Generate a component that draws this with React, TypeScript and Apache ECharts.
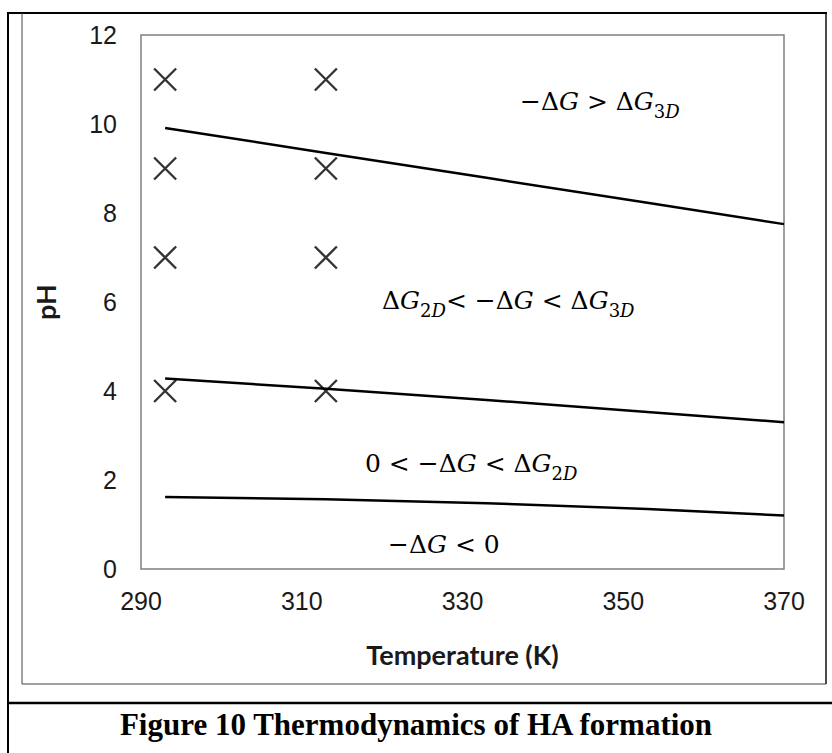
import React, { useEffect, useRef } from "react";
import * as echarts from "echarts";

const xTicks = [290, 310, 330, 350, 370];
const yTicks = [0, 2, 4, 6, 8, 10, 12];

// experiment points (Temperature K, pH)
const markerPoints: [number, number][] = [
  [293, 11], [313, 11],
  [293, 9], [313, 9],
  [293, 7], [313, 7],
  [293, 4], [313, 4],
];

// boundary curves
const boundaryT = [293, 313, 333, 353, 370];
const boundary3D = [9.91, 9.35, 8.79, 8.23, 7.75];
const boundary2D = [4.28, 4.05, 3.8, 3.53, 3.3];
const boundary0 = [1.62, 1.57, 1.48, 1.35, 1.2];

const caption = "Figure 10 Thermodynamics of HA formation";

export default function App() {
  const ref = useRef<HTMLDivElement>(null);
  useEffect(() => {
    if (!ref.current) return;
    const chart = echarts.init(ref.current, null, { renderer: "svg" });
    const mk = (ys: number[]) => boundaryT.map((t, i) => [t, ys[i]]);
    const fam = "DejaVu Serif";
    const base = { fontFamily: fam, fontSize: 25, lineHeight: 38, verticalAlign: "middle", fill: "#000" };
    const sub = { fontFamily: fam, fontSize: 18, lineHeight: 18, verticalAlign: "bottom", fill: "#000" };
    const rich = {
      n: { ...base },
      i: { ...base, fontStyle: "italic" },
      s: { ...sub },
      si: { ...sub, fontStyle: "italic" },
    };
    const ann = (x: number, y: number, text: string) => ({
      type: "text",
      x,
      y,
      style: { text, rich, align: "left", verticalAlign: "middle" },
      z: 10,
    });
    const frame = (x1: number, y1: number, x2: number, y2: number, stroke: string, lineWidth: number) => ({
      type: "line",
      shape: { x1, y1, x2, y2 },
      style: { stroke, lineWidth },
    });
    chart.setOption({
      animation: false,
      backgroundColor: "#fff",
      grid: {
        left: 141,
        top: 35,
        width: 643,
        height: 534,
        show: true,
        borderColor: "#7f7f7f",
        borderWidth: 1.5,
      },
      xAxis: {
        type: "value",
        min: xTicks[0],
        max: xTicks[xTicks.length - 1],
        interval: 20,
        axisLine: { show: false },
        axisTick: { show: false },
        splitLine: { show: false },
        axisLabel: { fontFamily: "Liberation Sans", fontSize: 25, color: "#1a1a1a", margin: 19 },
        name: "Temperature (K)",
        nameLocation: "middle",
        nameGap: 72,
        nameTextStyle: { fontFamily: "Lato", fontWeight: "bold", fontSize: 27, color: "#1a1a1a" },
      },
      yAxis: {
        type: "value",
        min: yTicks[0],
        max: yTicks[yTicks.length - 1],
        interval: 2,
        axisLine: { show: false },
        axisTick: { show: false },
        splitLine: { show: false },
        axisLabel: { fontFamily: "Liberation Sans", fontSize: 25, color: "#1a1a1a", margin: 24 },
        name: "pH",
        nameLocation: "middle",
        nameGap: 82,
        nameRotate: 90,
        nameTextStyle: { fontFamily: "Lato", fontWeight: "bold", fontSize: 27, color: "#1a1a1a" },
      },
      series: [
        {
          type: "scatter",
          data: markerPoints,
          symbol: "path://M0,0L20,20M20,0L0,20",
          symbolSize: 22,
          itemStyle: { color: "rgba(0,0,0,0)", borderColor: "#000", borderWidth: 2.4 },
          z: 3,
        },
        { type: "line", data: mk(boundary3D), showSymbol: false, lineStyle: { color: "#000", width: 2.5 } },
        { type: "line", data: mk(boundary2D), showSymbol: false, lineStyle: { color: "#000", width: 2.5 } },
        { type: "line", data: mk(boundary0), showSymbol: false, lineStyle: { color: "#000", width: 2.5 } },
      ],
      graphic: [
        frame(8, 13, 8, 753, "#000", 2),
        frame(7, 13, 827, 13, "#000", 2),
        frame(826, 13, 826, 684, "#111", 1.5),
        frame(22, 13, 22, 684, "#444", 1),
        frame(22, 684, 826, 684, "#444", 1),
        frame(8, 703, 832, 703, "#000", 2.5),
        {
          type: "text",
          x: 416,
          y: 724,
          style: {
            text: caption,
            font: "bold 31px 'Liberation Serif'",
            fill: "#000",
            align: "center",
            verticalAlign: "middle",
          },
        },
        ann(520, 101, "{n|−Δ}{i|G}{n| > Δ}{i|G}{s|3}{si|D}"),
        ann(382, 300, "{n|Δ}{i|G}{s|2}{si|D}{n|< −Δ}{i|G}{n| < Δ}{i|G}{s|3}{si|D}"),
        ann(365, 463, "{n|0 < −Δ}{i|G}{n| < Δ}{i|G}{s|2}{si|D}"),
        ann(388, 544, "{n|−Δ}{i|G}{n| < 0}"),
      ],
    });
    return () => chart.dispose();
  }, []);
  return (
    <div
      ref={ref}
      style={{ position: "fixed", left: 0, top: 0, width: 832, height: 753 }}
    />
  );
}
